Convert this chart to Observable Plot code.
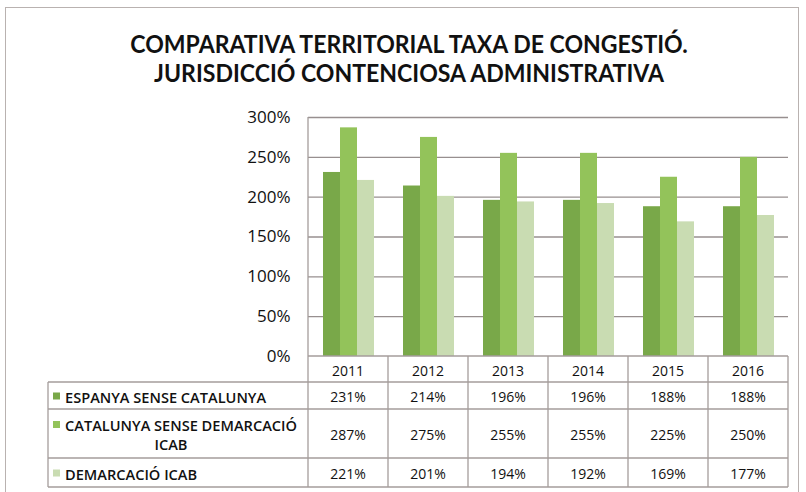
<!DOCTYPE html>
<html>
<head>
<meta charset="utf-8">
<script src="https://cdn.jsdelivr.net/npm/d3@7"></script>
<script src="https://cdn.jsdelivr.net/npm/@observablehq/plot@0.6"></script>
<style>
  html, body { margin: 0; padding: 0; background: #fff; }
  #wrap { position: relative; width: 806px; height: 492px; overflow: hidden; background: #fff; }
  #border { position: absolute; left: 5px; top: 7px; width: 794px; height: 500px; border: 1px solid #b9b2b0; box-sizing: border-box; }
  #title { position: absolute; left: 12px; top: 29px; width: 794px; text-align: center;
    font-family: Lato, "Open Sans", sans-serif; font-weight: 700; font-size: 25px; line-height: 28.5px; color: #111;
    transform: scaleX(0.922); transform-origin: 397px 0; }
  #chart { position: absolute; left: 0; top: 100px; }
</style>
</head>
<body>
<div id="wrap">
  <div id="border"></div>
  <div id="title"><div id="t1">COMPARATIVA TERRITORIAL TAXA DE CONGESTIÓ.</div><div id="t2">JURISDICCIÓ CONTENCIOSA ADMINISTRATIVA</div></div>
  <div id="chart"></div>
</div>
<script>
const years = ["2011", "2012", "2013", "2014", "2015", "2016"];
const series = ["ESPANYA SENSE CATALUNYA", "CATALUNYA SENSE DEMARCACIÓ ICAB", "DEMARCACIÓ ICAB"];
const seriesLines = [["ESPANYA SENSE CATALUNYA"], ["CATALUNYA SENSE DEMARCACIÓ", "ICAB"], ["DEMARCACIÓ ICAB"]];
const espanya = [231, 214, 196, 196, 188, 188];
const catalunya = [287, 275, 255, 255, 225, 250];
const icab = [221, 201, 194, 192, 169, 177];
const yTicks = [0, 50, 100, 150, 200, 250, 300];
const colors = ["#79a849", "#93c35a", "#c9dcb2"];

const values = [espanya, catalunya, icab];
const data = [];
years.forEach((yr, i) => series.forEach((s, j) => data.push({year: yr, series: s, value: values[j][i]})));

const plot = Plot.plot({
  width: 806,
  height: 392,
  marginTop: 17,
  marginBottom: 136,
  marginLeft: 306,
  marginRight: 16,
  style: {fontFamily: "'Open Sans', sans-serif", fontSize: "17px", fontWeight: 500, background: "transparent", overflow: "visible", color: "#111"},
  fx: {domain: years, padding: 0, axis: null, label: null},
  x: {domain: series, axis: null, paddingInner: 0, paddingOuter: 0.75},
  y: {domain: [0, 300], ticks: yTicks, tickFormat: d => d + "%", label: null, tickSize: 0, tickPadding: 18},
  color: {domain: series, range: colors},
  marks: [
    Plot.gridY(yTicks.slice(1), {stroke: "#978f8f", strokeOpacity: 1, strokeWidth: 1.3}),
    Plot.barY(data, {fx: "year", x: "series", y: "value", fill: "series"})
  ]
});
document.getElementById("chart").appendChild(plot);

// Data table drawn from the library's own scales
const svg = d3.select(plot);
const fx = plot.scale("fx");
const ys = plot.scale("y");
const color = plot.scale("color");
const colLeft = yr => fx.apply(yr);
const bw = fx.bandwidth;
const left = colLeft(years[0]);
const right = colLeft(years[years.length - 1]) + bw;
const y0 = ys.apply(0);
const yTop = ys.apply(300);
const tableLeft = 48;
const rowH = [26, 27, 49, 29];
const rowY = [y0];
rowH.forEach(h => rowY.push(rowY[rowY.length - 1] + h));
const lineColor = "#a59d9b";
const g = svg.append("g").attr("stroke", lineColor).attr("stroke-width", 1.3);

// axis line on the left of the plot
g.append("line").attr("x1", left).attr("x2", left).attr("y1", yTop).attr("y2", y0);
// horizontal lines
g.append("line").attr("x1", left).attr("x2", right).attr("y1", y0).attr("y2", y0);
rowY.slice(1).forEach(yy => g.append("line").attr("x1", tableLeft).attr("x2", right).attr("y1", yy).attr("y2", yy));
// vertical lines
g.append("line").attr("x1", tableLeft).attr("x2", tableLeft).attr("y1", rowY[1]).attr("y2", rowY[4]);
years.forEach(yr => g.append("line").attr("x1", colLeft(yr)).attr("x2", colLeft(yr)).attr("y1", y0).attr("y2", rowY[4]));
g.append("line").attr("x1", right).attr("x2", right).attr("y1", y0).attr("y2", rowY[4]);

const t = svg.append("g").attr("font-family", "'Open Sans', sans-serif").attr("fill", "#111").attr("font-weight", 500);
// header row
years.forEach(yr => t.append("text").attr("x", colLeft(yr) + bw / 2).attr("y", (rowY[0] + rowY[1]) / 2 + 1)
  .attr("text-anchor", "middle").attr("dominant-baseline", "central").attr("font-size", 14).text(yr));
// values and row labels
series.forEach((s, j) => {
  const cy = (rowY[j + 1] + rowY[j + 2]) / 2 + 1;
  years.forEach((yr, i) => t.append("text").attr("x", colLeft(yr) + bw / 2).attr("y", cy)
    .attr("text-anchor", "middle").attr("dominant-baseline", "central").attr("font-size", 14)
    .text(values[j][i] + "%"));
  const lines = seriesLines[j];
  const lh = 19;
  const firstY = cy - (lines.length - 1) * lh / 2;
  svg.append("rect").attr("x", 53).attr("y", firstY - 4).attr("width", 7).attr("height", 7).attr("fill", color.apply(s));
  const first = t.append("text").attr("x", 65).attr("y", firstY).attr("text-anchor", "start")
    .attr("dominant-baseline", "central").attr("font-size", 14.6).attr("font-weight", 600).text(lines[0]);
  if (lines.length > 1) {
    const w = first.node().getComputedTextLength();
    t.append("text").attr("x", (53 + 65 + w) / 2 - 4).attr("y", firstY + lh).attr("text-anchor", "middle")
      .attr("dominant-baseline", "central").attr("font-size", 14.6).attr("font-weight", 600).text(lines[1]);
  }
});
</script>
</body>
</html>
